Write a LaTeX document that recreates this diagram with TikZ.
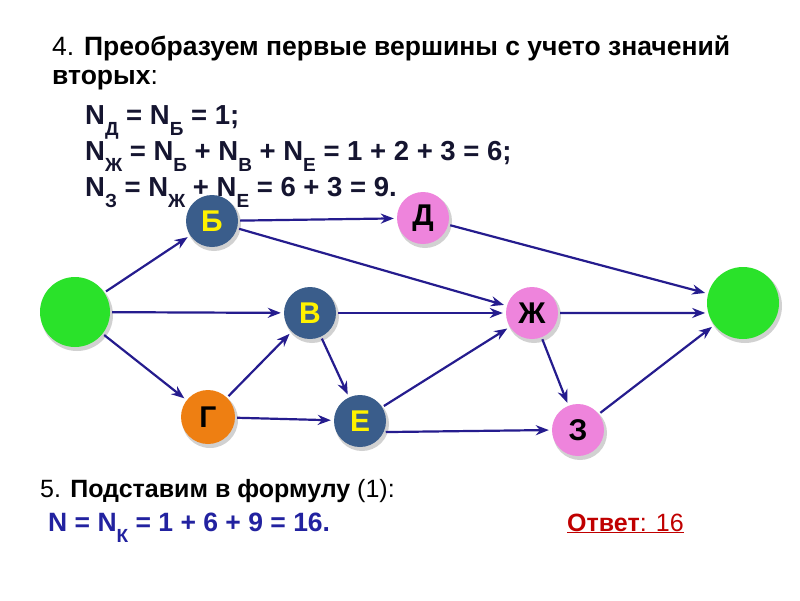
\documentclass[tikz,border=0pt]{standalone}
\usepackage{fontspec}
\setmainfont{Liberation Sans}
\usetikzlibrary{arrows.meta}
\definecolor{edgec}{HTML}{251C8E}
\definecolor{nblue}{HTML}{3A5D8B}
\definecolor{npink}{HTML}{EE84DC}
\definecolor{norange}{HTML}{EE7F12}
\definecolor{ngreen}{HTML}{2AE22A}
\definecolor{fblue}{HTML}{2222A0}
\definecolor{ansred}{HTML}{C00000}
\definecolor{ftxt}{HTML}{151530}
\newcommand\sbs[1]{\raisebox{-0.42em}{\fontsize{19}{19}\selectfont #1}}
\begin{document}
\begin{tikzpicture}[x=1pt,y=-1pt,
  vert/.style={circle, minimum size=52pt, inner sep=0pt, font=\bfseries\fontsize{30}{30}\selectfont},
  arr/.style={draw=edgec, line width=2.2pt, -{Stealth[length=13pt,width=10pt]}, shorten >=3pt, shorten <=2pt},
  txt/.style={anchor=base west, inner sep=0pt},
  ]
\useasboundingbox (0,0) rectangle (800,600);
\fill[white] (0,0) rectangle (800,600);
% headings
\node[txt, font=\fontsize{26.5}{26.5}\selectfont, text=black] (h1) at (52,55) {4. \textbf{Преобразуем первые вершины с учето значений}};
\node[txt, font=\fontsize{26.5}{26.5}\selectfont, text=black] (h2) at (52,84) {\textbf{вторых}:};
\node[txt, font=\bfseries\fontsize{27.5}{27.5}\selectfont, text=ftxt] (f1) at (85,124) {N\sbs{Д} = N\sbs{Б} = 1;};
\node[txt, font=\bfseries\fontsize{27.5}{27.5}\selectfont, text=ftxt] (f2) at (85,160) {N\sbs{Ж} = N\sbs{Б} + N\sbs{В} + N\sbs{Е} = 1 + 2 + 3 = 6;};
\node[txt, font=\bfseries\fontsize{27.5}{27.5}\selectfont, text=ftxt] (f3) at (85,196) {N\sbs{З} = N\sbs{Ж} + N\sbs{Е} = 6 + 3 = 9.};
% node shadows
\foreach \x/\y/\s in {75/312/70, 212/221/52, 423/218/52, 310/313/52, 532/313/52, 208/417/54, 360/421/52, 578/430/52, 743/303/72}{
  \fill[black, opacity=0.18] (\x+2,\y+3) circle[radius=\s/2+1];
}
\node[circle, fill=ngreen, minimum size=70pt, inner sep=0pt] (src) at (75,312) {};
\node[circle, fill=ngreen, minimum size=72pt, inner sep=0pt] (snk) at (743,303) {};
\node[vert, fill=nblue, text=yellow] (b) at (212,221) {Б};
\node[vert, fill=npink, text=black] (d) at (423,218) {Д};
\node[vert, fill=nblue, text=yellow] (v) at (310,313) {В};
\node[vert, fill=npink, text=black] (zh) at (532,313) {Ж};
\node[vert, fill=norange, text=black, minimum size=54pt] (g) at (208,417) {Г};
\node[vert, fill=nblue, text=yellow] (e) at (360,421) {Е};
\node[vert, fill=npink, text=black] (z) at (578,430) {З};
% edges
\draw[arr] (src) -- (b);
\draw[arr] (src) -- (v);
\draw[arr] (src) -- (g);
\draw[arr] (b) -- (d);
\draw[arr] (b) -- (zh);
\draw[arr] (g) -- (v);
\draw[arr] (g) -- (e);
\draw[arr] (v) -- (e);
\draw[arr] (v) -- (zh);
\draw[arr] (e) -- (zh);
\draw[arr] (e.-25) -- (z.west);
\draw[arr] (d) -- (snk);
\draw[arr] (zh.east) -- (snk.196);
\draw[arr] (zh) -- (z);
\draw[arr] (z) -- (snk);
% bottom text
\node[txt, font=\fontsize{25}{25}\selectfont, text=black] (h3) at (40,497) {5. \textbf{Подставим в формулу} (1):};
\node[txt, font=\bfseries\fontsize{26.5}{26.5}\selectfont, text=fblue] (f4) at (48,531) {N = N\sbs{К} = 1 + 6 + 9 = 16.};
\node[txt, font=\fontsize{25}{25}\selectfont, text=ansred] (ans) at (567,531) {\underline{\textbf{Ответ}: 16}};
\end{tikzpicture}
\end{document}
